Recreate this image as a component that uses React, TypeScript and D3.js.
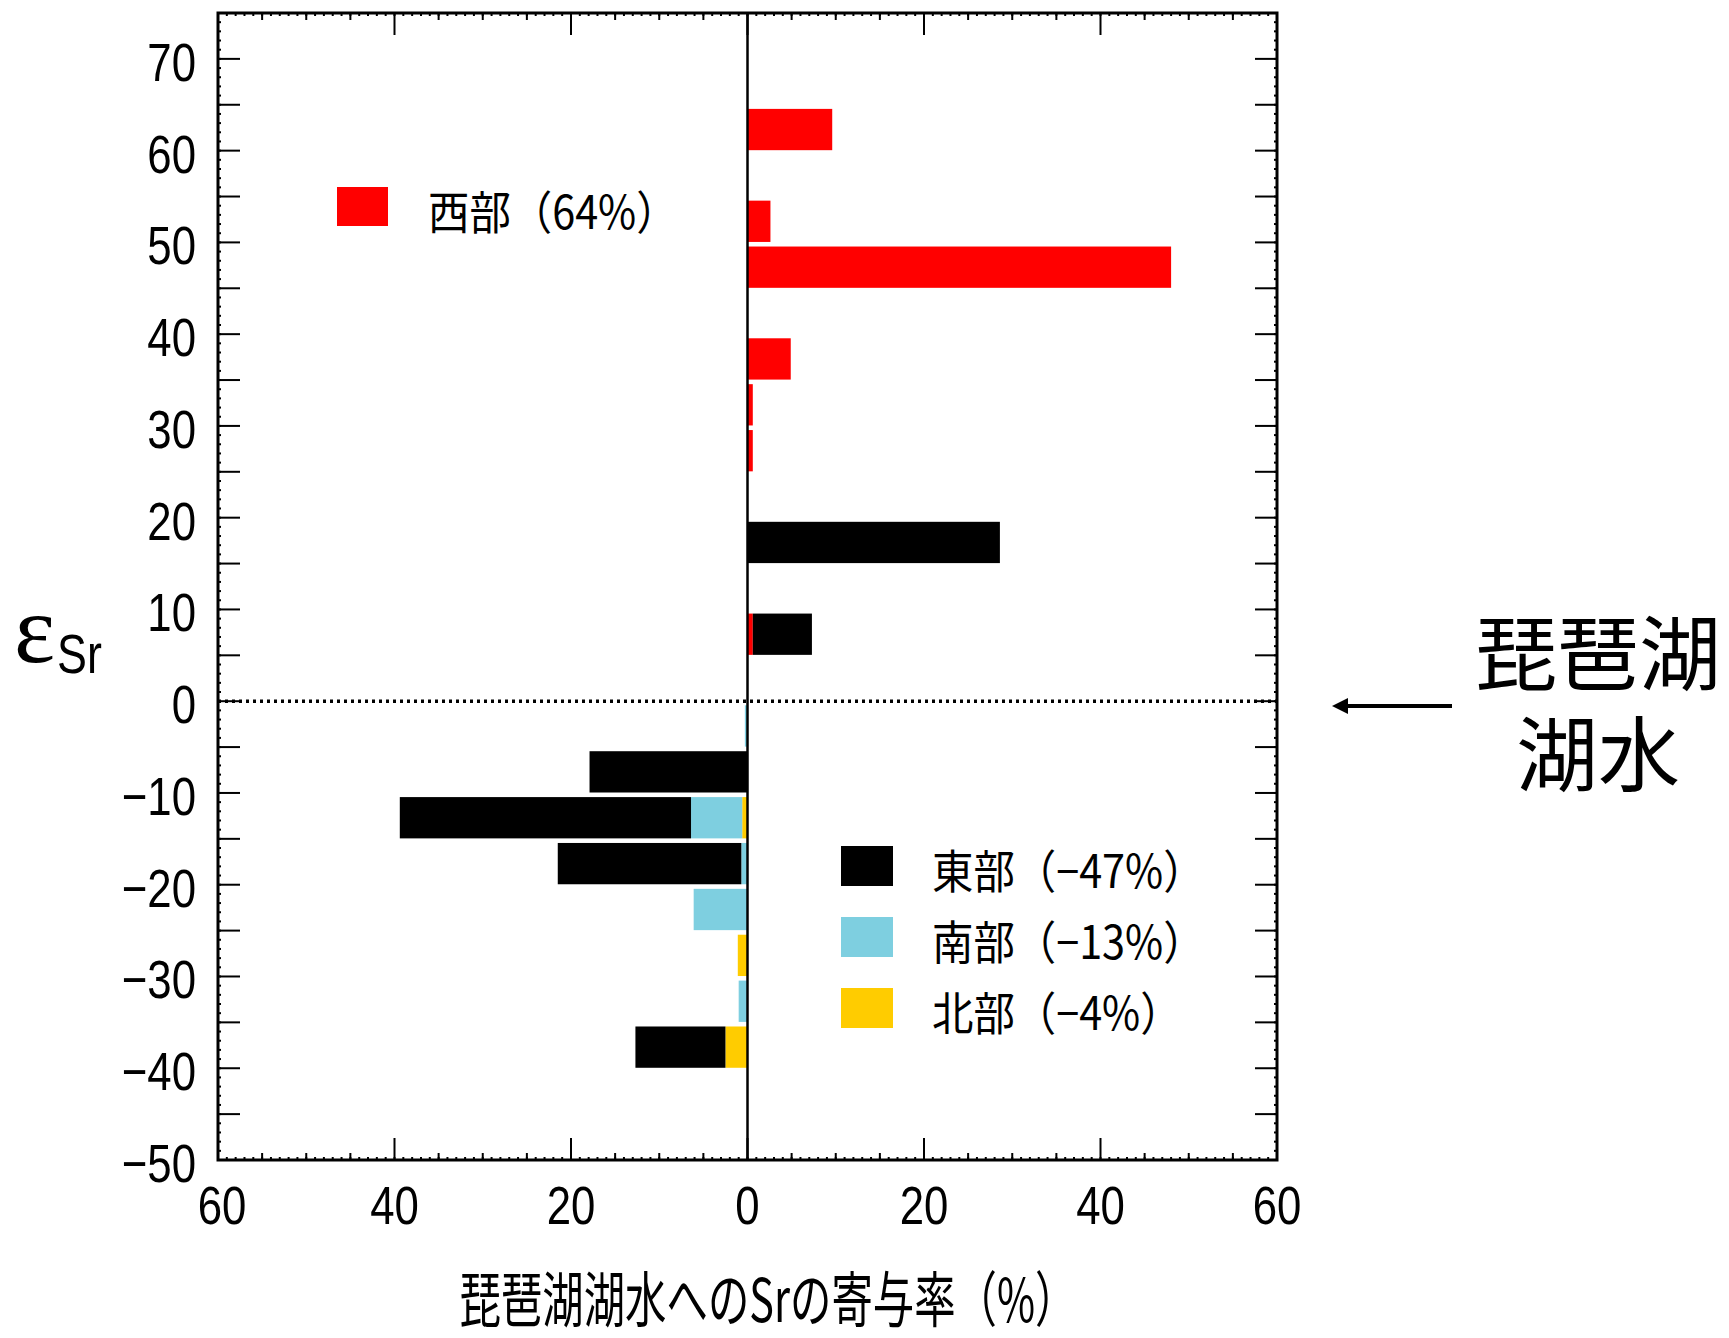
import React from 'react';
import * as d3 from 'd3';

// Bins of εSr (lower edge, each 5 units wide)
const binLow = [60, 50, 45, 35, 30, 25, 15, 5, -5, -10, -15, -20, -25, -30, -35, -40];
// Contribution (%) of each region to Lake Biwa Sr
const west = [9.6, 2.6, 48.0, 4.9, 0.6, 0.6, 0, 0.6, 0, 0, 0, 0, 0, 0, 0, 0];
const north = [0, 0, 0, 0, 0, 0, 0, 0, 0, 0, -0.6, 0, 0, -1.1, 0, -2.5];
const south = [0, 0, 0, 0, 0, 0, 0, 0, -0.3, 0, -5.8, -0.7, -6.1, 0, -1.0, 0];
const east = [0, 0, 0, 0, 0, 0, 28.6, 6.7, 0, -17.9, -33.0, -20.8, 0, 0, 0, -10.2];

const seriesKeys = ['west', 'north', 'south', 'east'];
const seriesColors: Record<string, string> = {
  west: '#ff0000',
  north: '#ffcc00',
  south: '#7ecfe0',
  east: '#000000',
};
const legendTopItems = [{ key: 'west', label: '西部（64%）' }];
const legendBottomItems = [
  { key: 'east', label: '東部（−47%）' },
  { key: 'south', label: '南部（−13%）' },
  { key: 'north', label: '北部（−4%）' },
];

const yTickValues = [70, 60, 50, 40, 30, 20, 10, 0, -10, -20, -30, -40, -50];
const xTickValues = [-60, -40, -20, 0, 20, 40, 60];
const xTitle = '琵琶湖湖水へのSrの寄与率（%）';
const annotationLines = ['琵琶湖', '湖水'];

const W = 1729;
const H = 1338;
const plot = { left: 218, right: 1277, top: 13, bottom: 1160 };
const numFont = "'Liberation Sans', Arial, sans-serif";
const jpFont = "'Noto Sans CJK JP', sans-serif";

export default function App() {
  const x = d3.scaleLinear().domain([-60, 60]).range([plot.left, plot.right]);
  const y = d3.scaleLinear().domain([-50, 75]).range([plot.bottom, plot.top]);

  const rows = binLow.map((lo, i) => ({
    lo,
    west: west[i],
    north: north[i],
    south: south[i],
    east: east[i],
  }));
  const stacked = d3
    .stack<any>()
    .keys(seriesKeys)
    .offset(d3.stackOffsetDiverging)(rows);

  const barTop = (lo: number) => y(lo + 4.55);
  const barBot = (lo: number) => y(lo + 0.05);

  const minorX = d3.range(-60, 61, 1);
  const minorY = d3.range(-50, 76, 1);
  const midX = d3.range(-55, 60, 5).filter((v) => v % 20 !== 0);
  const majX = [-40, -20, 0, 20, 40];
  const majY = d3.range(-45, 75, 5);
  const fmt = d3.format('');

  return (
    <svg
      width={W}
      height={H}
      style={{ position: 'absolute', left: 0, top: 0, background: '#fff' }}
    >
      <rect x={0} y={0} width={W} height={H} fill="#fff" />
      {/* bars */}
      {stacked.map((s) => (
        <g key={s.key} fill={seriesColors[s.key]}>
          {s.map((d, i) => {
            const x0 = x(d[0]);
            const x1 = x(d[1]);
            if (Math.abs(x1 - x0) < 0.01) return null;
            const lo = rows[i].lo;
            return (
              <rect
                key={i}
                x={Math.min(x0, x1)}
                y={barTop(lo)}
                width={Math.abs(x1 - x0)}
                height={barBot(lo) - barTop(lo)}
              />
            );
          })}
        </g>
      ))}

      {/* zero lines */}
      <line
        x1={plot.left}
        x2={plot.right}
        y1={y(0)}
        y2={y(0)}
        stroke="#000"
        strokeWidth={3.5}
        strokeDasharray="3 4"
      />
      <line x1={x(0)} x2={x(0)} y1={plot.top} y2={plot.bottom} stroke="#000" strokeWidth={2.5} />

      {/* ticks */}
      <g stroke="#000" strokeWidth={2}>
        {minorX.map((v) => (
          <g key={'mx' + v}>
            <line x1={x(v)} x2={x(v)} y1={plot.top} y2={plot.top + 3} />
            <line x1={x(v)} x2={x(v)} y1={plot.bottom} y2={plot.bottom - 3} />
          </g>
        ))}
        {minorY.map((v) => (
          <g key={'my' + v}>
            <line x1={plot.left} x2={plot.left + 3} y1={y(v)} y2={y(v)} />
            <line x1={plot.right} x2={plot.right - 3} y1={y(v)} y2={y(v)} />
          </g>
        ))}
        {midX.map((v) => (
          <g key={'dx' + v}>
            <line x1={x(v)} x2={x(v)} y1={plot.top} y2={plot.top + 7} />
            <line x1={x(v)} x2={x(v)} y1={plot.bottom} y2={plot.bottom - 7} />
          </g>
        ))}
        {majX.map((v) => (
          <g key={'jx' + v}>
            <line x1={x(v)} x2={x(v)} y1={plot.top} y2={plot.top + 22} />
            <line x1={x(v)} x2={x(v)} y1={plot.bottom} y2={plot.bottom - 22} />
          </g>
        ))}
        {majY.map((v) => (
          <g key={'jy' + v}>
            <line x1={plot.left} x2={plot.left + 22} y1={y(v)} y2={y(v)} />
            <line x1={plot.right} x2={plot.right - 22} y1={y(v)} y2={y(v)} />
          </g>
        ))}
      </g>

      {/* frame */}
      <rect
        x={plot.left}
        y={plot.top}
        width={plot.right - plot.left}
        height={plot.bottom - plot.top}
        fill="none"
        stroke="#000"
        strokeWidth={3}
      />

      {/* y tick labels */}
      {yTickValues.map((v) => (
        <text
          key={'yl' + v}
          transform={`translate(196,${y(v) + 22}) scale(0.81,1)`}
          textAnchor="end"
          fontFamily={numFont}
          fontSize={54}
          fill="#000"
        >
          {fmt(v)}
        </text>
      ))}

      {/* x tick labels */}
      {xTickValues.map((v) => (
        <text
          key={'xl' + v}
          transform={`translate(${x(v) + (v === -60 ? 4 : 0)},1224) scale(0.81,1)`}
          textAnchor="middle"
          fontFamily={numFont}
          fontSize={54}
          fill="#000"
        >
          {fmt(Math.abs(v))}
        </text>
      ))}

      {/* x axis title */}
      <text
        transform={`translate(768,1322) scale(0.69,1)`}
        textAnchor="middle"
        fontFamily={jpFont}
        fontSize={60}
        fill="#000"
      >
        {xTitle}
      </text>

      {/* y axis title εSr */}
      <text x={14} y={662} fontFamily="'Liberation Serif', serif" fontSize={98} fill="#000">
        ε
      </text>
      <text
        transform="translate(57,673) scale(0.8,1)"
        fontFamily={numFont}
        fontSize={56}
        fill="#000"
      >
        Sr
      </text>

      {/* legend top */}
      {legendTopItems.map((it) => (
        <g key={it.key}>
          <rect x={337} y={187} width={51} height={39} fill={seriesColors[it.key]} />
          <text
            transform="translate(428,229) scale(0.9,1)"
            fontFamily={jpFont}
            fontSize={46}
            fill="#000"
          >
            {it.label}
          </text>
        </g>
      ))}

      {/* legend bottom */}
      {legendBottomItems.map((it, i) => (
        <g key={it.key} transform={`translate(0,${i * 71})`}>
          <rect x={841} y={846} width={52} height={40} fill={seriesColors[it.key]} />
          <text
            transform="translate(932,888) scale(0.9,1)"
            fontFamily={jpFont}
            fontSize={46}
            fill="#000"
          >
            {it.label}
          </text>
        </g>
      ))}

      {/* annotation arrow + text */}
      <line x1={1452} x2={1344} y1={706} y2={706} stroke="#000" strokeWidth={4} />
      <polygon points="1332,706 1348,698 1348,714" fill="#000" />
      <text
        textAnchor="middle"
        fontFamily={jpFont}
        fontWeight={400}
        fontSize={82}
        fill="#000"
      >
        {annotationLines.map((t, i) => (
          <tspan key={t} x={1598} y={684 + i * 101}>
            {t}
          </tspan>
        ))}
      </text>
    </svg>
  );
}
